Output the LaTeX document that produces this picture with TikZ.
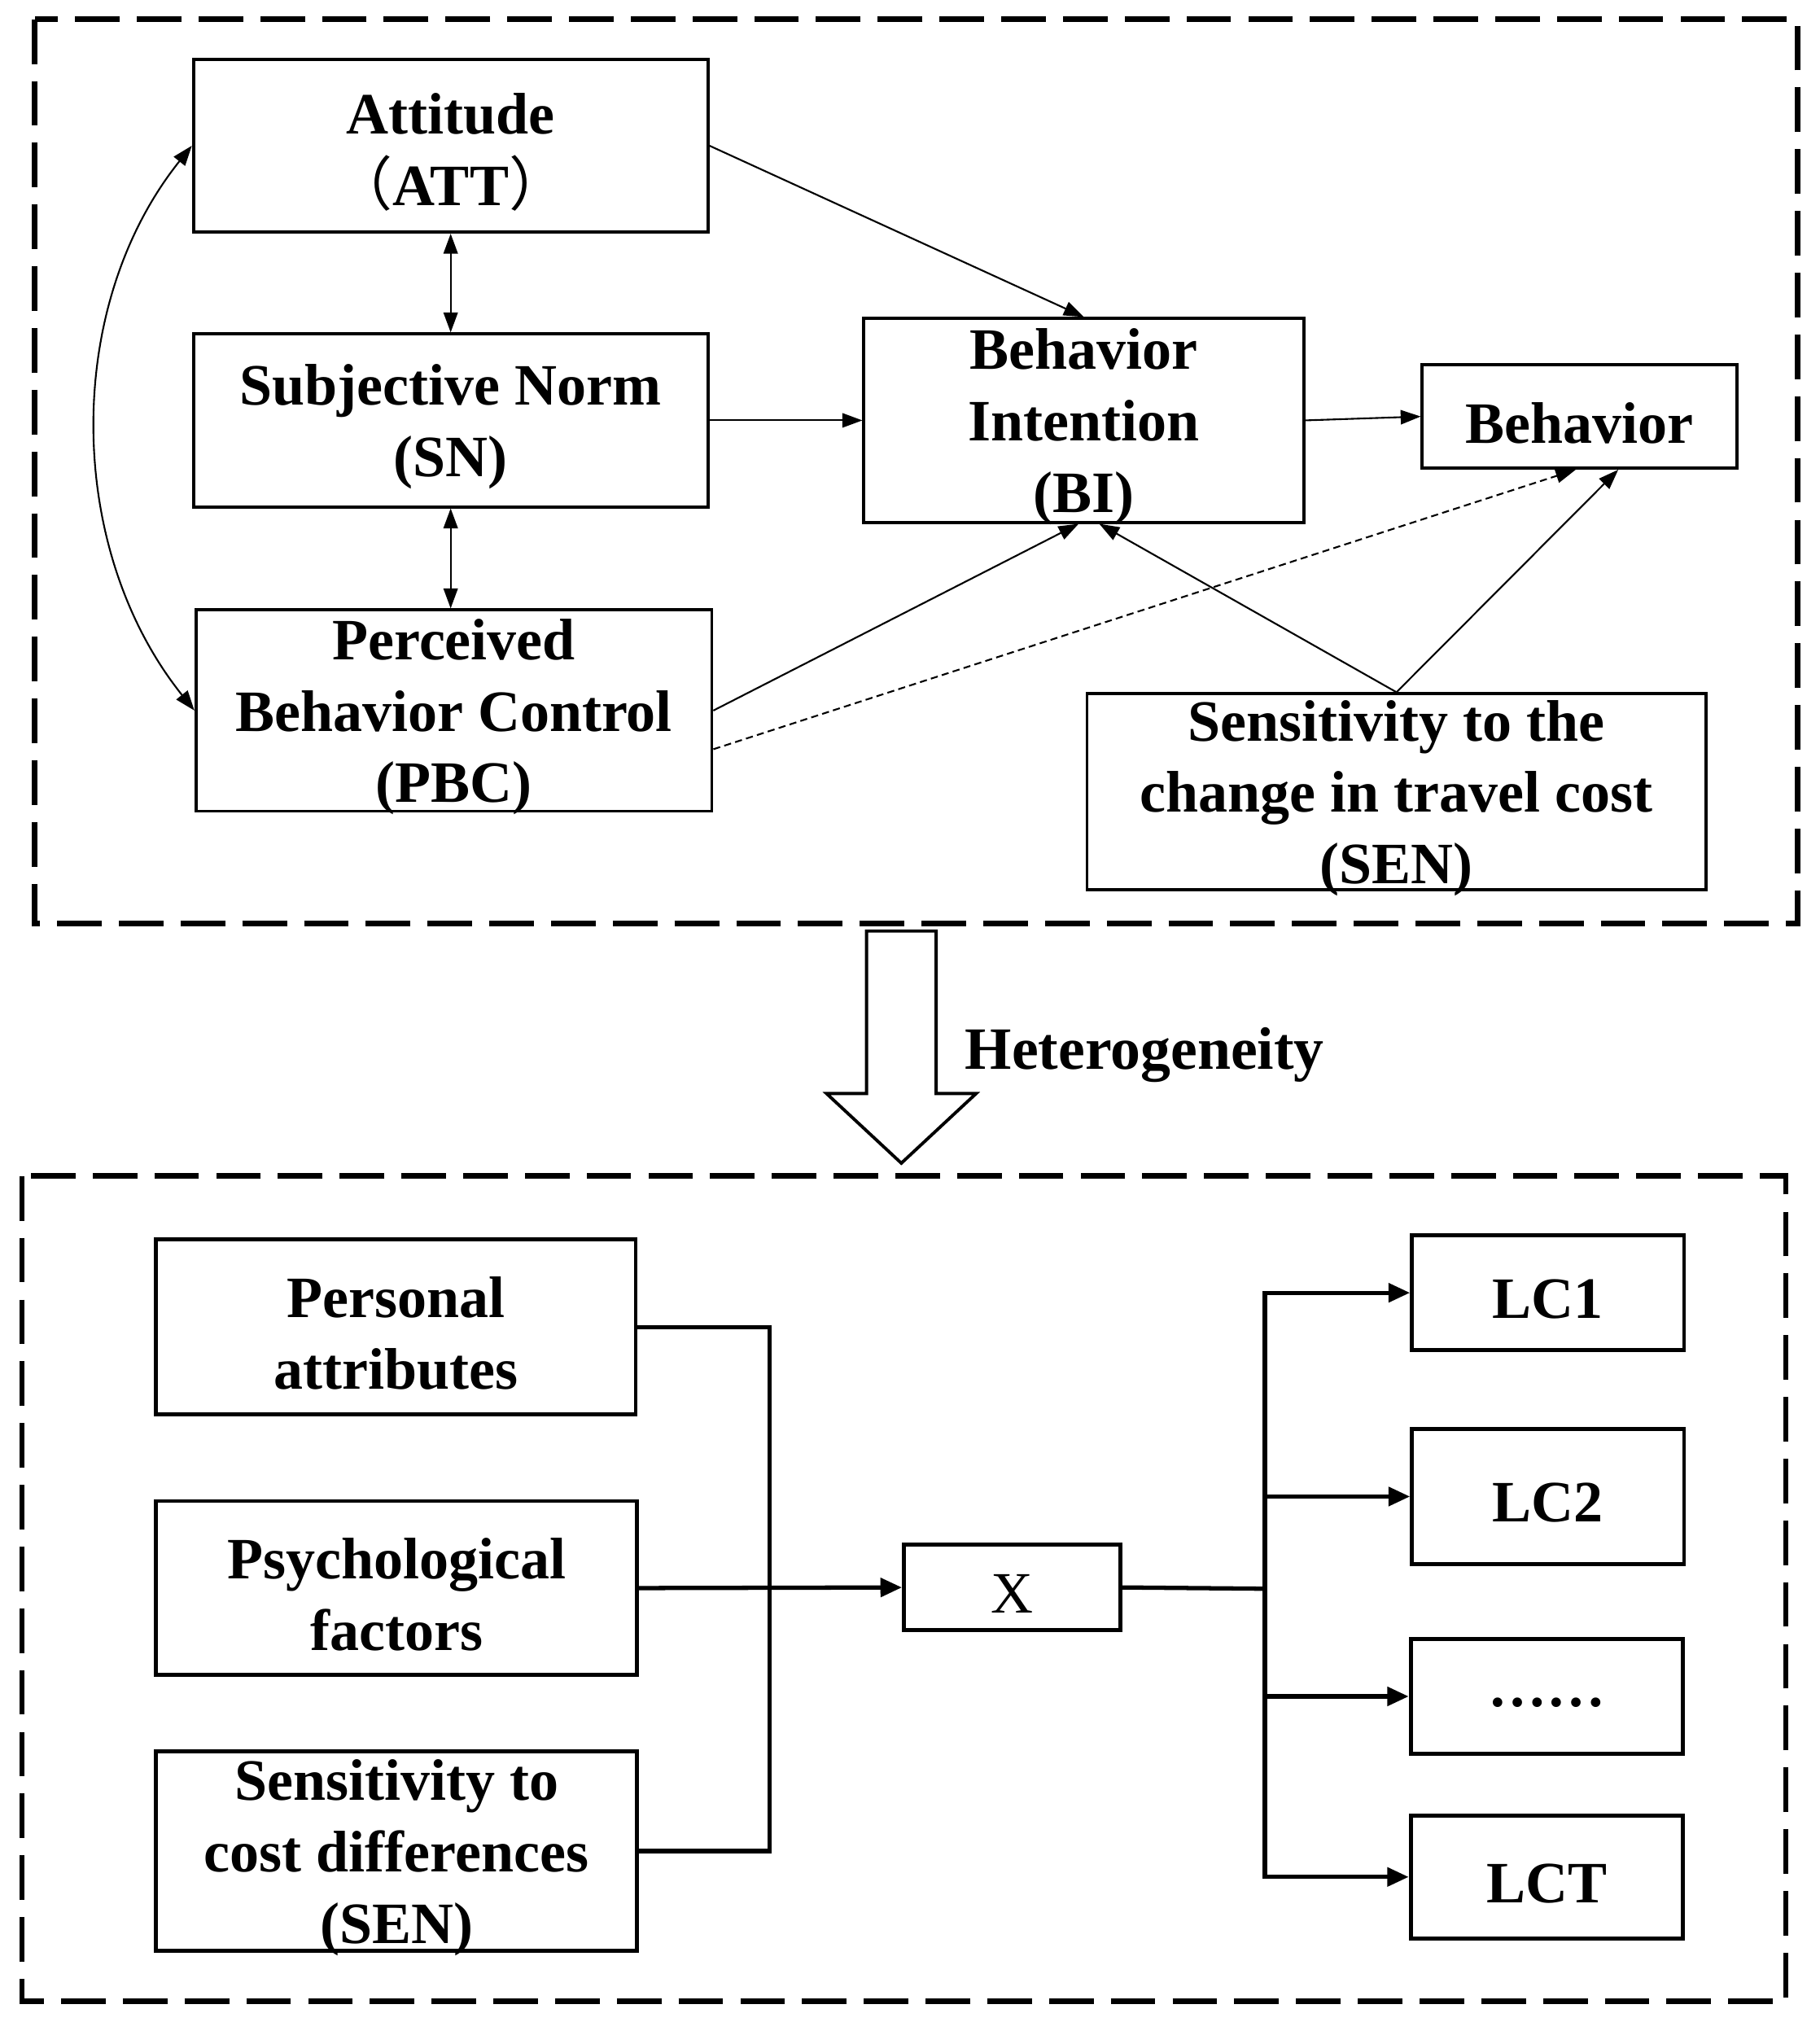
\documentclass[tikz,border=0pt]{standalone}
\usepackage{fontspec}
\setmainfont{Liberation Serif}
\newfontfamily\cjk{Noto Sans CJK SC}
\usetikzlibrary{arrows.meta}
\usetikzlibrary{calc}
\newcommand{\px}{0.015847cm}

\begin{document}
\begin{tikzpicture}[
    x=0.015847cm, y=-0.015847cm,
    frame/.style={line width=1.9pt, dash pattern=on 15.6pt off 6pt},
    box/.style={
      draw=black,
      line width=1.1pt,
      inner sep=0pt,
      rectangle
    },
    bbox/.style={box, line width=1.4pt},
    lbl/.style={align=center, inner sep=0pt, yshift=-5*\px, font=\bfseries\fontsize{20.5}{25}\selectfont},
    leg/.style={line width=0.6pt, -{Triangle[length=7pt, width=5pt]}},
    bleg/.style={line width=0.6pt, {Triangle[length=7pt, width=5pt]}-{Triangle[length=7pt, width=5pt]}},
    dleg/.style={leg, dash pattern=on 2.5pt off 1.5pt},
    wire/.style={line width=1.5pt},
    wleg/.style={wire, -{Triangle[length=7.5pt, width=6.5pt]}}
  ]
  \useasboundingbox (0,0) rectangle (1411,1568);

  % theory of planned behaviour
  \draw[frame] (27,15) rectangle (1394,716);

  \node[box, minimum width=399*\px, minimum height=134*\px, label={[lbl]center:{Attitude\\{\cjk\mdseries （}ATT{\cjk\mdseries ）}}}] (ATT) at (349.5,113) {};
  \node[box, minimum width=399*\px, minimum height=134*\px, label={[lbl]center:{Subjective Norm\\(SN)}}] (SN) at (349.5,326) {};
  \node[box, minimum width=400*\px, minimum height=156*\px, label={[lbl]center:{Perceived\\Behavior Control\\(PBC)}}] (PBC) at (352,551) {};
  \node[box, minimum width=341*\px, minimum height=158*\px, label={[lbl]center:{Behavior\\Intention\\(BI)}}] (BI) at (840.5,326) {};
  \node[box, minimum width=244*\px, minimum height=80*\px, label={[lbl]center:{Behavior}}] (BEH) at (1225,323) {};
  \node[box, minimum width=480*\px, minimum height=152*\px, label={[lbl]center:{Sensitivity to the\\change in travel cost\\(SEN)}}] (SENa) at (1083,614) {};

  \draw[bleg] (ATT.west) .. controls +(-100,125) and +(-100,-125) .. (PBC.west);
  \draw[leg] (ATT.east) -- (BI.north);
  \draw[bleg] (ATT.south) -- (SN.north);
  \draw[bleg] (SN.south) -- (SN.south |- PBC.north);
  \draw[leg] (SN.east) -- (BI.west);
  \draw[leg] (BI.east) -- (BEH.west);
  \draw[leg] (PBC.east) -- ($(BI.south)+(-4,0)$);
  \draw[dleg] ($(PBC.east)+(0,30)$) -- ($(BEH.south)+(-3,0)$);
  \draw[leg] (SENa.north) -- ($(BI.south)+(12,0)$);
  \draw[leg] (SENa.north) -- ($(BEH.south)+(30,0)$);

  % heterogeneity
  \draw[line width=1.1pt] (672,722) -- (726,722) -- (726,848) -- (757,848)
    -- (699,902) -- (641,848) -- (672,848) -- cycle;
  \node[lbl, font=\bfseries\fontsize{21}{25}\selectfont, anchor=west] (het) at (748,813) {Heterogeneity};

  % latent classes
  \draw[frame] (17,912) rectangle (1385,1552);

  \node[bbox, minimum width=372*\px, minimum height=136*\px, label={[lbl]center:{Personal\\attributes}}] (PER) at (307,1029) {};
  \node[bbox, minimum width=373*\px, minimum height=135*\px, label={[lbl]center:{Psychological\\factors}}] (PSY) at (307.5,1231.5) {};
  \node[bbox, minimum width=373*\px, minimum height=155*\px, label={[lbl]center:{Sensitivity to\\cost differences\\(SEN)}}] (SENb) at (307.5,1435.5) {};
  \node[bbox, minimum width=168*\px, minimum height=66*\px, label={[lbl, font=\fontsize{20.5}{25}\selectfont]center:{X}}] (X) at (785,1231) {};
  \node[bbox, minimum width=211*\px, minimum height=89*\px, label={[lbl]center:{LC1}}] (LC1) at (1200.5,1002.5) {};
  \node[bbox, minimum width=211*\px, minimum height=105*\px, label={[lbl]center:{LC2}}] (LC2) at (1200.5,1160.5) {};
  \node[bbox, minimum width=211*\px, minimum height=89*\px, label={[lbl]center:{……}}] (DOTS) at (1199.5,1315.5) {};
  \node[bbox, minimum width=211*\px, minimum height=95*\px, label={[lbl]center:{LCT}}] (LCT) at (1199.5,1455.5) {};

  \coordinate (join) at (597,1232);
  \coordinate (split) at (981,1232);
  \draw[wire] (PER.east) -| (join) |- (SENb.east);
  \draw[wleg] (PSY.east) -- (X.west);
  \draw[wire] (X.east) -- (split);
  \foreach \n in {LC1,LC2,DOTS,LCT}
    \draw[wleg] (split) |- (\n.west);

\end{tikzpicture}
\end{document}
